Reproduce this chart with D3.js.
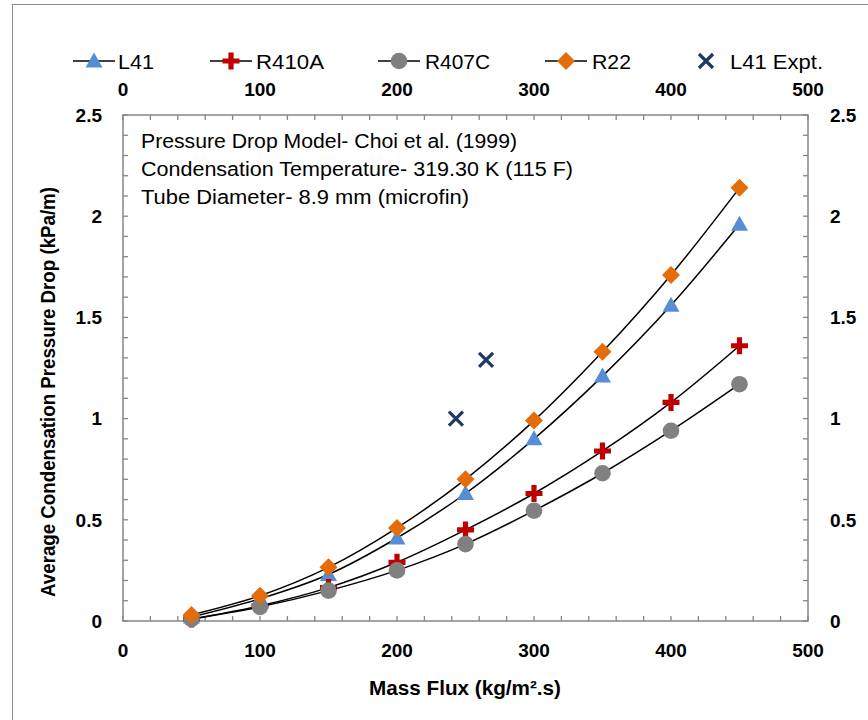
<!DOCTYPE html>
<html><head><meta charset="utf-8">
<script src="https://cdn.jsdelivr.net/npm/d3@7"></script>
<style>body{margin:0;background:#fff}svg{display:block}</style>
</head><body>
<svg id="chart" width="868" height="720"></svg>
<script>
// ---- data ----
const massFlux = [50, 100, 150, 200, 250, 300, 350, 400, 450];
const L41   = [0.02, 0.11, 0.23, 0.41, 0.63, 0.90, 1.21, 1.56, 1.96];
const R410A = [0.01, 0.075, 0.165, 0.29, 0.45, 0.63, 0.84, 1.08, 1.36];
const R407C = [0.01, 0.07, 0.15, 0.25, 0.38, 0.545, 0.73, 0.94, 1.17];
const R22   = [0.03, 0.125, 0.265, 0.46, 0.70, 0.99, 1.33, 1.71, 2.14];
const exptFlux = [243, 265];
const exptDrop = [1.00, 1.29];
const xTicks = [0, 100, 200, 300, 400, 500];
const yTicks = [0, 0.5, 1, 1.5, 2, 2.5];
const seriesNames = ["L41", "R410A", "R407C", "R22", "L41 Expt."];
const noteLines = ["Pressure Drop Model- Choi et al. (1999)",
                   "Condensation Temperature- 319.30 K (115 F)",
                   "Tube Diameter- 8.9 mm (microfin)"];

const svg = d3.select("#chart");
const FONT = "'Liberation Sans', Arial, sans-serif";
const L = 123, R = 808, T = 115, B = 621;
const x = d3.scaleLinear().domain([0, 500]).range([L, R]);
const y = d3.scaleLinear().domain([0, 2.5]).range([B, T]);

// chart area border
svg.append("rect").attr("x", 12.5).attr("y", 4.5).attr("width", 900).attr("height", 800)
  .attr("fill", "#fff").attr("stroke", "#8c8c8c").attr("stroke-width", 1);

// plot frame
svg.append("rect").attr("x", L).attr("y", T).attr("width", R - L).attr("height", B - T)
  .attr("fill", "none").attr("stroke", "#868686").attr("stroke-width", 1.5);

// minor ticks (inside)
const xMinor = d3.range(0, 501, 20);
const yMinor = d3.range(0, 26).map(d => d / 10);
const tg = svg.append("g").attr("stroke", "#868686").attr("stroke-width", 1.3);
xMinor.forEach(v => {
  tg.append("line").attr("x1", x(v)).attr("x2", x(v)).attr("y1", B).attr("y2", B - 5);
  tg.append("line").attr("x1", x(v)).attr("x2", x(v)).attr("y1", T).attr("y2", T + 5);
});
yMinor.forEach(v => {
  tg.append("line").attr("x1", L).attr("x2", L + 5).attr("y1", y(v)).attr("y2", y(v));
  tg.append("line").attr("x1", R).attr("x2", R - 5).attr("y1", y(v)).attr("y2", y(v));
});

// tick labels
const lab = svg.append("g").attr("font-family", FONT).attr("font-weight", "bold")
  .attr("font-size", 19).attr("fill", "#000");
xTicks.forEach(v => {
  lab.append("text").attr("x", x(v)).attr("y", 657).attr("text-anchor", "middle").text(v);
  lab.append("text").attr("x", x(v)).attr("y", 95.5).attr("text-anchor", "middle").text(v);
});
yTicks.forEach(v => {
  lab.append("text").attr("x", 102).attr("y", y(v) + 6.8).attr("text-anchor", "end").text(v);
  lab.append("text").attr("x", 830).attr("y", y(v) + 6.8).attr("text-anchor", "start").text(v);
});

// axis titles
svg.append("text").attr("x", 465).attr("y", 695).attr("text-anchor", "middle")
  .attr("font-family", FONT).attr("font-weight", "bold").attr("font-size", 20)
  .attr("textLength", 192).attr("lengthAdjust", "spacingAndGlyphs")
  .text("Mass Flux (kg/m\u00B2.s)");
svg.append("text").attr("transform", "translate(55,392) rotate(-90)").attr("text-anchor", "middle")
  .attr("font-family", FONT).attr("font-weight", "bold").attr("font-size", 20)
  .attr("textLength", 410).attr("lengthAdjust", "spacingAndGlyphs")
  .text("Average Condensation Pressure Drop (kPa/m)");

// annotation
const noteW = [376, 432, 328];
noteLines.forEach((t, i) => {
  svg.append("text").attr("x", 141).attr("y", 148 + i * 28)
    .attr("font-family", FONT).attr("font-size", 19.5).attr("fill", "#000")
    .attr("textLength", noteW[i]).attr("lengthAdjust", "spacingAndGlyphs").text(t);
});

// markers
const COLORS = {tri: "#558ED5", plus: "#C00000", circ: "#808080", dia: "#E46C0A", x: "#1F3864"};
function marker(g, type, cx, cy) {
  if (type === "tri") {
    g.append("path").attr("d", `M${cx},${cy - 8.5}L${cx + 8.5},${cy + 6.5}L${cx - 8.5},${cy + 6.5}Z`)
      .attr("fill", COLORS.tri);
  } else if (type === "plus") {
    const a = 8.5, w = 2.6;
    g.append("path").attr("d",
      `M${cx - w},${cy - a}H${cx + w}V${cy - w}H${cx + a}V${cy + w}H${cx + w}V${cy + a}H${cx - w}V${cy + w}H${cx - a}V${cy - w}H${cx - w}Z`)
      .attr("fill", COLORS.plus);
  } else if (type === "circ") {
    g.append("circle").attr("cx", cx).attr("cy", cy).attr("r", 8.3).attr("fill", COLORS.circ);
  } else if (type === "dia") {
    const a = 9;
    g.append("path").attr("d", `M${cx},${cy - a}L${cx + a},${cy}L${cx},${cy + a}L${cx - a},${cy}Z`)
      .attr("fill", COLORS.dia);
  } else if (type === "x") {
    const a = 7;
    g.append("path").attr("d", `M${cx - a},${cy - a}L${cx + a},${cy + a}M${cx + a},${cy - a}L${cx - a},${cy + a}`)
      .attr("stroke", COLORS.x).attr("stroke-width", 3.2).attr("fill", "none");
  }
}

const series = [
  {vals: L41, type: "tri"},
  {vals: R410A, type: "plus"},
  {vals: R407C, type: "circ"},
  {vals: R22, type: "dia"}
];
const line = d3.line().x(d => x(d[0])).y(d => y(d[1])).curve(d3.curveCatmullRom.alpha(0.5));
const pg = svg.append("g");
series.forEach(s => {
  const pts = massFlux.map((m, i) => [m, s.vals[i]]);
  pg.append("path").attr("d", line(pts)).attr("fill", "none").attr("stroke", "#000").attr("stroke-width", 1.5);
  pts.forEach(p => marker(pg, s.type, x(p[0]), y(p[1])));
});
exptFlux.forEach((m, i) => marker(pg, "x", x(m), y(exptDrop[i])));

// legend
const lg = svg.append("g");
const legendItems = [
  {type: "tri", x0: 73, tx: 118, tw: 36},
  {type: "plus", x0: 210, tx: 256, tw: 68},
  {type: "circ", x0: 378, tx: 425, tw: 65},
  {type: "dia", x0: 545, tx: 592, tw: 39},
  {type: "x", x0: null, tx: 730, tw: 93}
];
const LY = 61;
legendItems.forEach((it, i) => {
  if (it.x0 !== null) {
    lg.append("line").attr("x1", it.x0).attr("x2", it.x0 + 42).attr("y1", LY).attr("y2", LY)
      .attr("stroke", "#000").attr("stroke-width", 1.5);
    marker(lg, it.type, it.x0 + 21, LY);
  } else {
    marker(lg, "x", 706, LY);
  }
  lg.append("text").attr("x", it.tx).attr("y", LY + 7.5)
    .attr("font-family", FONT).attr("font-size", 21).attr("fill", "#000")
    .attr("textLength", it.tw).attr("lengthAdjust", "spacingAndGlyphs").text(seriesNames[i]);
});
</script>
</body></html>
